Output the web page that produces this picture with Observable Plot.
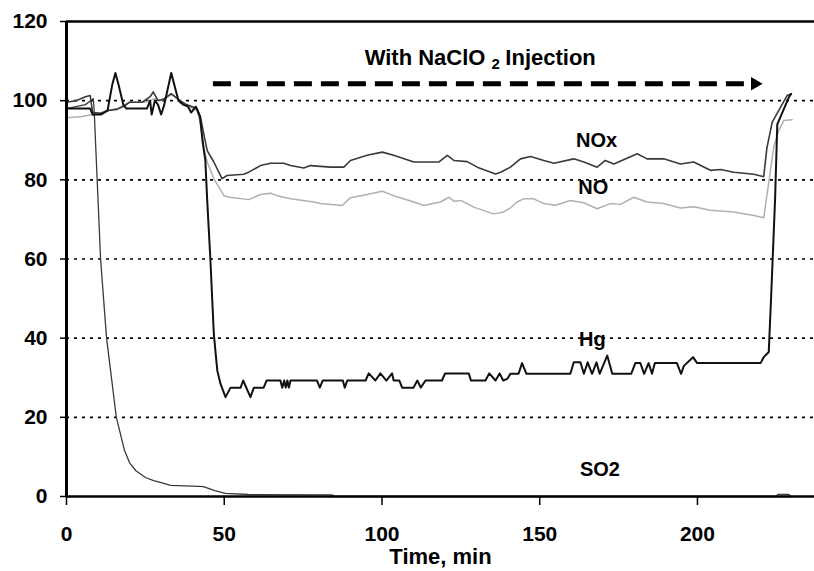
<!DOCTYPE html>
<html>
<head>
<meta charset="utf-8">
<script src="https://cdn.jsdelivr.net/npm/d3@7"></script>
<script src="https://cdn.jsdelivr.net/npm/@observablehq/plot@0.6"></script>
<style>
  html, body { margin: 0; padding: 0; background: #fff; overflow: hidden; }
</style>
</head>
<body>
<div id="chart"></div>
<script>
// ---- data (time in min, value in %) ----
const timeTicks = [0, 50, 100, 150, 200];
const valueTicks = [0, 20, 40, 60, 80, 100, 120];
const gridValues = [20, 40, 60, 80, 100];

const hg = [[0,98],[7.5,98],[8.3,96.5],[11,96.5],[13,97.5],[14.5,104],[15.5,107],[16.5,104],[18,99],[19,98],[25.5,98],[26.5,100],[27,96.5],[28,100],[29,99],[30,96.5],[31,99],[33.2,107],[35.5,100],[37,99],[38.5,98.5],[39.5,97],[41,98.5],[42.3,96],[43.1,90],[44,85],[44.6,74.8],[45.6,60],[46.7,41],[47.8,31.8],[48.8,28.5],[50.4,25.1],[52,27.5],[55.2,27.5],[56,29.3],[58.3,25.1],[59.4,27.5],[62.5,27.5],[63.4,29.3],[67.8,29.3],[68.4,27.5],[69,29.3],[69.5,27.5],[70,29.3],[70.5,27.5],[71,29.3],[79.4,29.3],[80.3,27.5],[81.2,29.3],[87.6,29.3],[88.2,27.5],[89,29.3],[94.8,29.3],[95.8,31.1],[97.9,29.3],[99.5,31.1],[101.4,29.3],[103.2,31.1],[103.7,29.3],[105.5,29.3],[106.4,27.5],[110,27.5],[111.2,29.3],[112.3,27.5],[113.8,29.3],[119,29.3],[120,31.1],[127.5,31.1],[128.2,29.3],[132.8,29.3],[134,31.1],[136,29.3],[137.3,31.1],[138.4,29.3],[139.7,29.7],[140.7,31],[143.3,31],[144.4,33.7],[145.8,31],[159.7,31],[160.8,33.9],[162.9,33.9],[164,31],[165.2,33.9],[166.6,31],[168,33.9],[169,31],[171.4,35.6],[173,31],[179,31],[180.3,33.7],[181.9,33.7],[183.1,31],[184.5,33.7],[185.6,31],[186.5,33.7],[188.8,33.7],[193.5,33.7],[194.8,31],[195.7,33],[198.6,35.2],[199.9,33.7],[220,33.7],[221,35.2],[222.6,36.5],[223.3,49.5],[224.6,75],[225.3,94],[229,100.9],[229.7,101.7]];

const nox = [[0,99.6],[3,100],[6,101],[7.5,101.3],[8.3,97],[11,96.8],[13,97.5],[16,97.8],[18,98.5],[20,99.6],[24,99.6],[26.5,101],[27.5,102.2],[29,100],[31,100.5],[33.2,101.8],[36,100],[38,99],[41.4,98],[42.5,95.8],[43.5,91.6],[44.6,87.4],[46.7,84.5],[49.3,80.3],[50.9,81.1],[56.2,81.4],[57.9,82],[61.5,83.6],[64.7,84.2],[68.9,84.2],[71,83.6],[75.2,83],[77.3,83.6],[83.7,83.2],[87.9,83.2],[90,84.9],[95.3,86.2],[100.1,87],[103.7,86.2],[110.1,84.5],[118,84.5],[120.7,86.2],[122.8,84.9],[127,84.6],[130.2,83.2],[136,81.5],[137.6,81.9],[140.7,83.2],[143.9,85.3],[147.1,85.9],[151.3,84.9],[154.5,84.2],[160.8,85.3],[164,84.5],[168.2,83.2],[170.8,84.9],[173.5,84],[180.9,86.6],[184,85.3],[189.3,85.3],[194.6,84],[198.8,84.5],[204.1,82.4],[207.3,82.6],[211.5,81.9],[217.9,81.4],[221,80.8],[222,88],[223.7,94.6],[228.4,101.3],[229.7,101.7]];

const no = [[0,95.7],[5,96],[7,96.3],[9,96.5],[12,97.2],[16,98],[20,99.6],[25,99.6],[28,100.5],[30,100],[33.2,101.5],[36,100],[38.5,98.6],[41.4,97.5],[42.5,94],[43.5,88],[44.6,84.5],[46.7,80.3],[49.9,76],[51.6,75.6],[57.8,75],[61.5,76.3],[64.7,76.6],[66.8,76],[71,75.2],[78.4,74.4],[80.5,74],[87.4,73.5],[90,75.5],[95.3,76.3],[100.1,77.1],[103.7,76],[110.1,74.4],[113.3,73.5],[118.5,74.4],[121.2,75.6],[122.8,74.6],[125,74.8],[129.1,73.1],[135.4,71.4],[138.3,71.8],[140.7,72.9],[142.8,74.4],[144.9,75.2],[148.1,75.2],[151.3,74],[155,73.6],[159.7,74.8],[164,74.2],[168.2,72.7],[172.4,74],[175.6,73.8],[179.8,75.6],[184,74.4],[189.3,74],[194.6,72.9],[198.8,73.2],[204.1,72.3],[211.5,71.9],[217.9,71],[221,70.4],[224.2,88.3],[225.8,92.5],[227.4,95],[230,95.2]];

const so2 = [[0,98],[3,98.5],[6,99],[8.5,100.5],[8.8,97],[10,74.8],[10.8,60],[12.7,40],[15.8,20],[18.4,11.6],[20,8.5],[22,6.5],[25,4.8],[27.6,4],[30,3.5],[33,2.8],[40,2.6],[43.4,2.5],[47,1.5],[50.4,0.8],[57.7,0.5],[84.3,0.4],[85,0],[225,0],[225.5,0.5],[229,0.5],[229.5,0]];

const seriesLabels = [
  {name: "NOx", t: 168, v: 90},
  {name: "NO", t: 167, v: 78},
  {name: "Hg", t: 166.7, v: 39.7},
  {name: "SO2", t: 169.1, v: 6.7}
];

const injectionStart = 46.4, injectionEnd = 216.5, arrowTip = 218.2, arrowLevel = 104.3;
const titleMain = {text: "With NaClO", t: 94.5, v: 110.8};
const titleSub = {text: "2", t: 136, v: 109.2};
const titleEnd = {text: "Injection", t: 139.1, v: 110.8};

const toRows = (arr) => arr.map(([t, v]) => ({t, v}));

const chart = Plot.plot({
  width: 814,
  height: 571,
  marginLeft: 66,
  marginRight: 0,
  marginTop: 21,
  marginBottom: 75,
  x: {domain: [0, 237.1]},
  y: {domain: [0, 120]},
  style: {fontFamily: "'Liberation Sans', Arial, sans-serif", fontWeight: "bold", fontSize: "21px", color: "#000", background: "#fff"},
  marks: [
    Plot.ruleY(gridValues, {stroke: "#000", strokeWidth: 1.6, strokeDasharray: "3,5"}),
    Plot.line(toRows(no), {x: "t", y: "v", stroke: "#b0b0b0", strokeWidth: 1.5}),
    Plot.line(toRows(nox), {x: "t", y: "v", stroke: "#3a3a3a", strokeWidth: 1.6}),
    Plot.line(toRows(so2), {x: "t", y: "v", stroke: "#3a3a3a", strokeWidth: 1.3}),
    Plot.line(toRows(hg), {x: "t", y: "v", stroke: "#111", strokeWidth: 2}),
    Plot.ruleY([0, 120], {stroke: "#000", strokeWidth: 2.5}),
    Plot.ruleX([0], {stroke: "#000", strokeWidth: 3}),
    Plot.axisY({ticks: valueTicks, tickSize: 6, tickPadding: 13, tickFormat: d3.format("d"), label: null, fontSize: 21, strokeWidth: 1.5}),
    Plot.axisX({ticks: timeTicks, tickSize: 9, tickPadding: 21, tickFormat: d3.format("d"), label: null, fontSize: 21, strokeWidth: 1.5}),
    Plot.text(["Time, min"], {frameAnchor: "bottom", dy: 67, fontSize: 22, fill: "#000"}),
    Plot.link([{x1: injectionStart, x2: injectionEnd, y: arrowLevel}], {x1: "x1", x2: "x2", y1: "y", y2: "y", stroke: "#000", strokeWidth: 5, strokeDasharray: "18,9"}),
    Plot.dot([{t: arrowTip, v: arrowLevel}], {x: "t", y: "v", symbol: "triangle", r: 5, rotate: 90, fill: "#000", stroke: null}),
    Plot.text([titleMain], {x: "t", y: "v", text: "text", textAnchor: "start", fontSize: 22, fill: "#000"}),
    Plot.text([titleSub], {x: "t", y: "v", text: "text", textAnchor: "middle", fontSize: 15, fill: "#000"}),
    Plot.text([titleEnd], {x: "t", y: "v", text: "text", textAnchor: "start", fontSize: 22, fill: "#000"}),
    Plot.text(seriesLabels, {x: "t", y: "v", text: "name", fontSize: 20, fill: "#000"})
  ]
});
document.getElementById("chart").appendChild(chart);
</script>
</body>
</html>
